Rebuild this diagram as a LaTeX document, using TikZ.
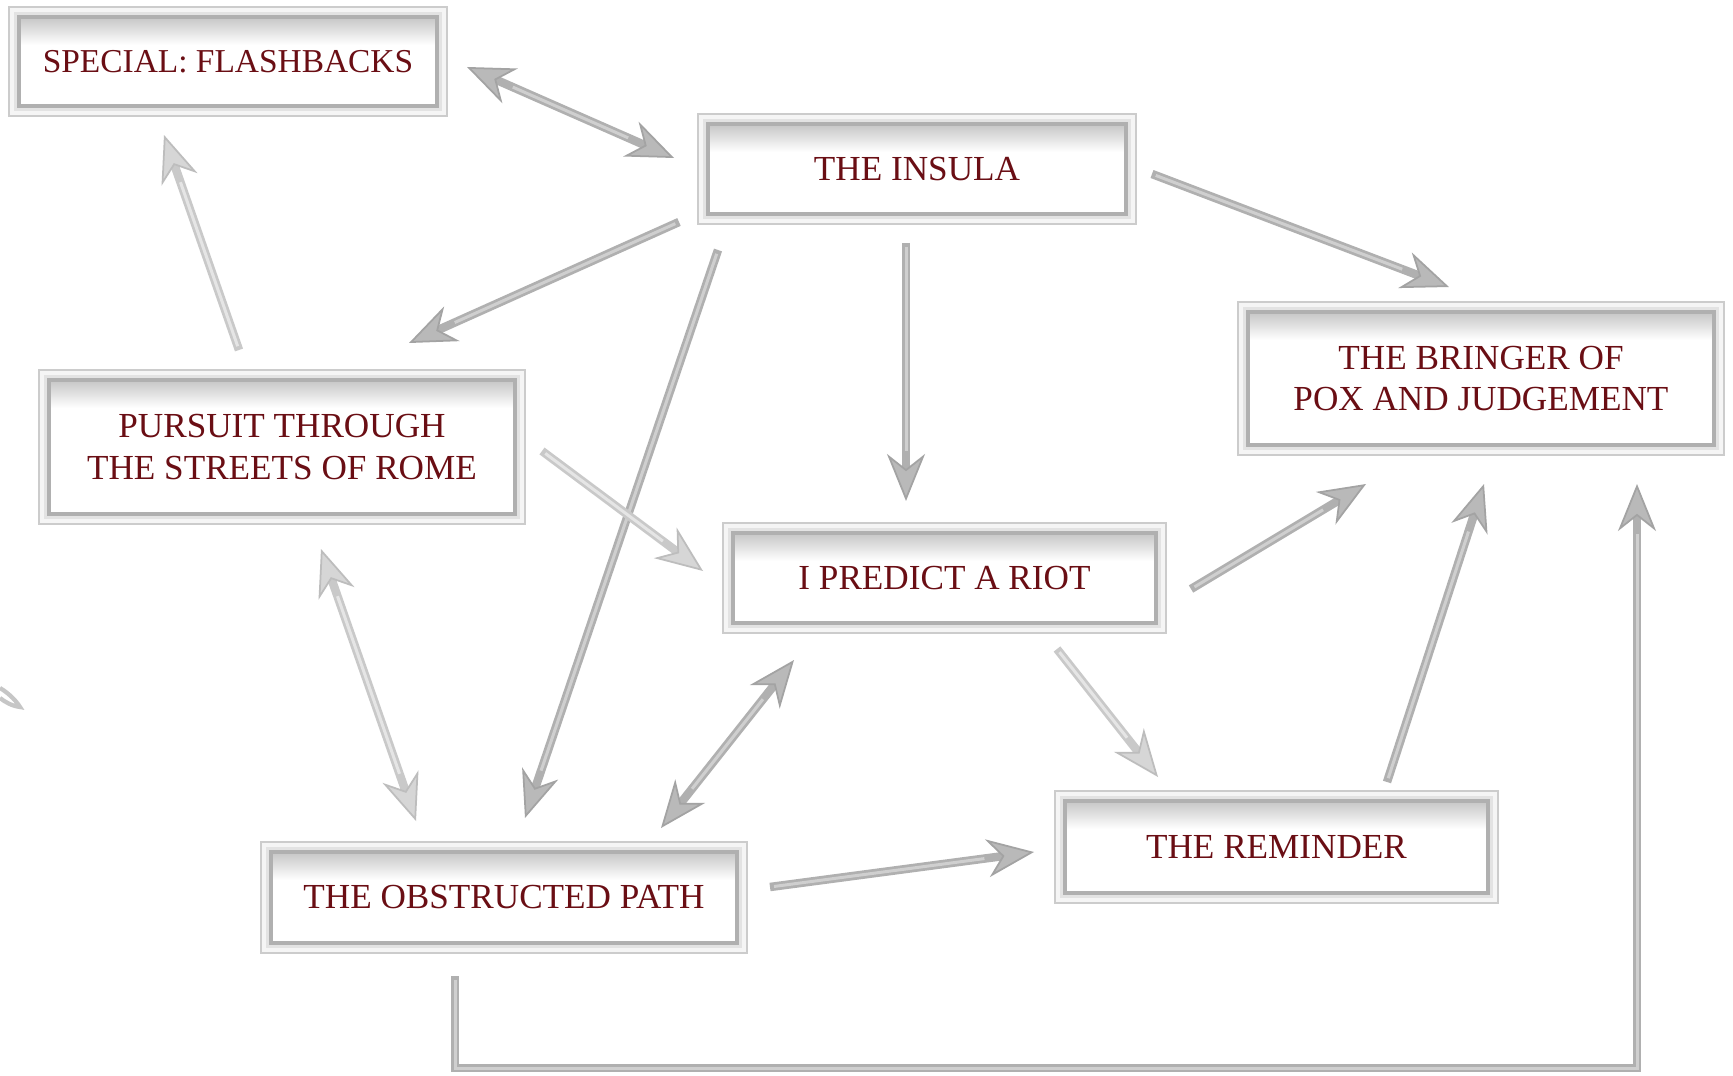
\documentclass[tikz,border=0pt]{standalone}
\usepackage{fontspec}
\setmainfont{Liberation Serif}
\usetikzlibrary{arrows.meta}
\definecolor{txt}{RGB}{106,14,20}
\tikzset{
  bbox/.style={rectangle, inner sep=0pt, fill=gray!22, draw=gray!40, line width=0.5pt,
    text=txt, font=\fontsize{10}{11.7}\selectfont, align=center,
    path picture={
      \fill[white] ([shift={(0.1cm,-0.1cm)}]path picture bounding box.north west) rectangle ([shift={(-0.1cm,0.1cm)}]path picture bounding box.south east);
      \shade[top color=gray!45, bottom color=white] ([shift={(0.1cm,-0.1cm)}]path picture bounding box.north west) rectangle ([shift={(-0.1cm,-0.38cm)}]path picture bounding box.north east);
      \draw[gray!62, line width=1pt] ([shift={(0.1cm,-0.1cm)}]path picture bounding box.north west) rectangle ([shift={(-0.1cm,0.1cm)}]path picture bounding box.south east);
      \draw[gray!8, line width=1.2pt] ([shift={(0.03cm,-0.03cm)}]path picture bounding box.north west) rectangle ([shift={(-0.03cm,0.03cm)}]path picture bounding box.south east);
    }},
  tipd/.tip={Stealth[length=0.47cm,width=0.38cm,inset=0.15cm,fill=gray!55,color=gray!72,line width=0.5pt]},
  tipl/.tip={Stealth[length=0.47cm,width=0.38cm,inset=0.15cm,fill=gray!32,color=gray!52,line width=0.5pt]},
  arr/.style={draw=gray!62, line width=0.085cm, -tipd,
    postaction={draw=gray!38, line width=0.03cm, -, shorten >=0.5cm, shorten <=0.04cm}},
  arrb/.style={draw=gray!62, line width=0.085cm, tipd-tipd,
    postaction={draw=gray!38, line width=0.03cm, -, shorten >=0.5cm, shorten <=0.5cm}},
  arrl/.style={draw=gray!42, line width=0.085cm, -tipl,
    postaction={draw=gray!20, line width=0.03cm, -, shorten >=0.5cm, shorten <=0.04cm}},
  arrlb/.style={draw=gray!42, line width=0.085cm, tipl-tipl,
    postaction={draw=gray!20, line width=0.03cm, -, shorten >=0.5cm, shorten <=0.5cm}},
}
\begin{document}
\begin{tikzpicture}[x=0.01cm,y=-0.01cm]
\useasboundingbox[fill=white] (0,0) rectangle (1733,1076);

% boxes
\node[bbox, minimum width=4.38cm, minimum height=1.09cm, font=\fontsize{9.5}{11.7}\selectfont] (flash) at (228,61.5) {SPECIAL: FLASHBACKS};
\node[bbox, minimum width=4.38cm, minimum height=1.10cm] (ins) at (917,169) {THE INSULA};
\node[bbox, minimum width=4.86cm, minimum height=1.53cm] (pox) at (1481,378.5) {THE BRINGER OF\\POX AND JUDGEMENT};
\node[bbox, minimum width=4.86cm, minimum height=1.54cm] (rome) at (282,447) {PURSUIT THROUGH\\THE STREETS OF ROME};
\node[bbox, minimum width=4.43cm, minimum height=1.10cm] (riot) at (944.5,578) {I PREDICT A RIOT};
\node[bbox, minimum width=4.43cm, minimum height=1.12cm] (rem) at (1276.5,847) {THE REMINDER};
\node[bbox, minimum width=4.86cm, minimum height=1.11cm] (obs) at (504,897.5) {THE OBSTRUCTED PATH};

% connector end points
\coordinate (a1s) at (467,67);   \coordinate (a1e) at (674,158);
\coordinate (a2s) at (1152,174); \coordinate (a2e) at (1449,287);
\coordinate (a3s) at (679,222);  \coordinate (a3e) at (409,343);
\coordinate (a4s) at (718,250);  \coordinate (a4e) at (525,818);
\coordinate (a5s) at (906,243);  \coordinate (a5e) at (906,501);
\coordinate (a6s) at (239,350);  \coordinate (a6e) at (164,135);
\coordinate (a7s) at (542,451);  \coordinate (a7e) at (703,571);
\coordinate (a8s) at (321,549);  \coordinate (a8e) at (416,821);
\coordinate (a9s) at (1191,589); \coordinate (a9e) at (1366,484);
\coordinate (a10s) at (794,660); \coordinate (a10e) at (661,828);
\coordinate (a11s) at (1057,649); \coordinate (a11e) at (1158,777);
\coordinate (a12s) at (770,887); \coordinate (a12e) at (1034,852);
\coordinate (a13s) at (1387,782); \coordinate (a13e) at (1484,484);
\coordinate (a14s) at (455,976); \coordinate (a14e) at (1637,484);

% connectors
\draw[arrb] (a1s) -- (a1e);
\draw[arr] (a2s) -- (a2e);
\draw[arr] (a3s) -- (a3e);
\draw[arr] (a4s) -- (a4e);
\draw[arr] (a5s) -- (a5e);
\draw[arrl] (a6s) -- (a6e);
\draw[arrl] (a7s) -- (a7e);
\draw[arrlb] (a8s) -- (a8e);
\draw[arr] (a9s) -- (a9e);
\draw[arrb] (a10s) -- (a10e);
\draw[arrl] (a11s) -- (a11e);
\draw[arr] (a12s) -- (a12e);
\draw[arr] (a13s) -- (a13e);
\draw[arr] (a14s) -- (455,1068) -- (1637,1068) -- (a14e);

% fragment at left edge
\draw[gray!45, line width=1.2pt] (0,688) .. controls (10,694) and (17,702) .. (20,707) .. controls (12,706) and (5,702) .. (0,698);
\end{tikzpicture}
\end{document}
